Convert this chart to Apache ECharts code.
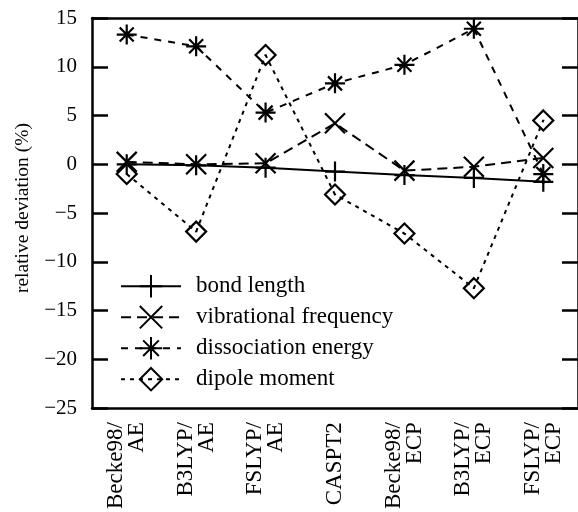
<!DOCTYPE html>
<html>
<head>
<meta charset="utf-8">
<script src="https://cdn.jsdelivr.net/npm/echarts@6/dist/echarts.min.js"></script>
<style>
html,body{margin:0;padding:0;background:#fff;}
#chart{width:578px;height:512px;}
</style>
</head>
<body>
<div id="chart"></div>
<script>
var categories = ['Becke98/\nAE', 'B3LYP/\nAE', 'FSLYP/\nAE', 'CASPT2', 'Becke98/\nECP', 'B3LYP/\nECP', 'FSLYP/\nECP'];
var seriesNames = ['bond length', 'vibrational frequency', 'dissociation energy', 'dipole moment'];
var bondLength = [0, -0.1, -0.35, -0.75, -1.1, -1.4, -1.8];
var vibrationalFrequency = [0.25, 0, 0.1, 4.2, -0.65, -0.25, 0.65];
var dissociationEnergy = [13.3, 12.1, 5.3, 8.3, 10.2, 13.9, -1.0];
var dipoleMoment = [-1.0, -6.9, 11.2, -3.1, -7.1, -12.7, 4.5];
var yTicks = {min: -25, max: 15, interval: 5};

var FONT = 'Liberation Serif';
var PLUS = 'path://M10,0L10,20M0,10L20,10';
var CROSS = 'path://M0,0L20,20M20,0L0,20';
var STAR = 'path://M10,0L10,20M0,10L20,10M3,3L17,17M17,3L3,17';
var DIAMOND = 'path://M10,0L20,10L10,20L0,10Z M10,9.4L10,10.6';

function mkSeries(name, data, symbol, dash, size) {
  return {
    name: name, type: 'line', data: data,
    symbol: symbol, symbolSize: size, symbolKeepAspect: true,
    showAllSymbol: true,
    itemStyle: {color: 'rgba(255,255,255,0)', borderColor: '#000', borderWidth: 2.2},
    lineStyle: {color: '#000', width: 2, type: dash},
    emphasis: {disabled: true},
    animation: false,
    z: 3
  };
}
function mkLegend(name, centerY) {
  return {
    left: 120, top: centerY - 14, orient: 'vertical', padding: 0,
    itemWidth: 60, itemHeight: 28, itemGap: 0,
    textStyle: {fontFamily: FONT, fontSize: 23, color: '#000', padding: [0, 0, 0, 10]},
    data: [name]
  };
}

var chart = echarts.init(document.getElementById('chart'), null, {renderer: 'canvas'});
var fmt = function (v) { return String(v).replace('-', '\u2212'); };
var axisLine = {onZero: false, lineStyle: {color: '#000', width: 2.5}};
var tick = {inside: true, alignWithLabel: true, length: 16, lineStyle: {color: '#000', width: 2.5}};
chart.setOption({
  animation: false,
  backgroundColor: '#fff',
  color: ['#000'],
  grid: {left: 92, top: 18, width: 493, height: 393, containLabel: false},
  legend: [
    mkLegend(seriesNames[0], 288),
    mkLegend(seriesNames[1], 319),
    mkLegend(seriesNames[2], 350),
    mkLegend(seriesNames[3], 381)
  ],
  xAxis: [{
    type: 'category', data: categories, position: 'bottom',
    axisLine: axisLine, axisTick: tick,
    axisLabel: {rotate: 90, margin: 14, fontFamily: FONT, fontSize: 23, color: '#000', lineHeight: 21, interval: 0},
    splitLine: {show: false}
  }, {
    type: 'category', data: categories, position: 'top',
    axisLine: axisLine, axisTick: tick,
    axisLabel: {show: false},
    splitLine: {show: false}
  }],
  yAxis: [{
    type: 'value', min: yTicks.min, max: yTicks.max, interval: yTicks.interval,
    name: 'relative deviation (%)', nameLocation: 'middle', nameGap: 59, nameRotate: 90,
    nameTextStyle: {fontFamily: FONT, fontSize: 19.5, color: '#000', padding: [0, 0, 0, 10]},
    axisLine: {show: true, onZero: false, lineStyle: {color: '#000', width: 2.5}},
    axisTick: {show: true, inside: true, length: 16, lineStyle: {color: '#000', width: 2.5}},
    axisLabel: {margin: 15, fontFamily: FONT, fontSize: 21, color: '#000', formatter: fmt},
    splitLine: {show: false}
  }, {
    type: 'value', min: yTicks.min, max: yTicks.max, interval: yTicks.interval, position: 'right',
    axisLine: {show: true, onZero: false, lineStyle: {color: '#000', width: 2.5}},
    axisTick: {show: true, inside: true, length: 16, lineStyle: {color: '#000', width: 2.5}},
    axisLabel: {show: false},
    splitLine: {show: false}
  }],
  series: [
    mkSeries(seriesNames[0], bondLength, PLUS, 'solid', 20),
    mkSeries(seriesNames[1], vibrationalFrequency, CROSS, [10, 6], 20),
    mkSeries(seriesNames[2], dissociationEnergy, STAR, [7, 7], 20),
    mkSeries(seriesNames[3], dipoleMoment, DIAMOND, [4, 5], 20)
  ]
});
</script>
</body>
</html>
